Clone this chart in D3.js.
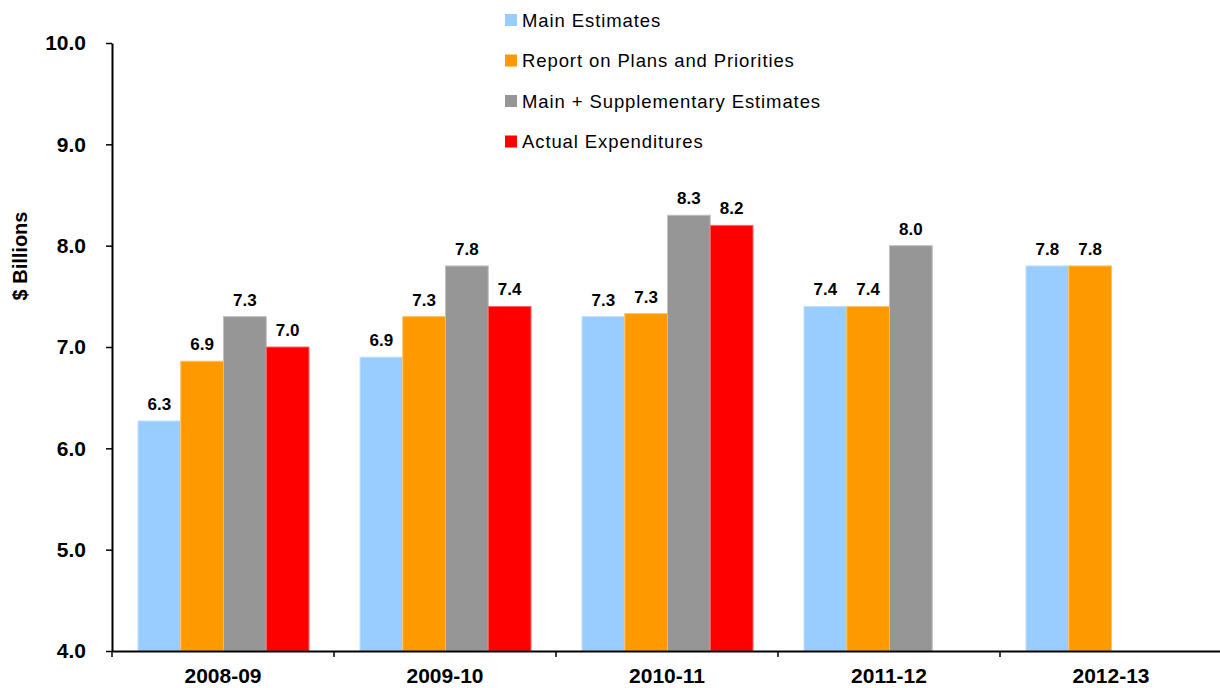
<!DOCTYPE html>
<html>
<head>
<meta charset="utf-8">
<script src="https://cdn.jsdelivr.net/npm/d3@7"></script>
<style>
  body { margin: 0; background: #fff; }
  svg { display: block; font-family: Arial, "Liberation Sans", sans-serif; }
</style>
</head>
<body>
<svg id="chart" width="1220" height="688"></svg>
<script>
const categories = ["2008-09", "2009-10", "2010-11", "2011-12", "2012-13"];
const seriesNames = ["Main Estimates", "Report on Plans and Priorities", "Main + Supplementary Estimates", "Actual Expenditures"];
const mainEstimates = [6.27, 6.9, 7.3, 7.4, 7.8];
const reportPlans = [6.86, 7.3, 7.33, 7.4, 7.8];
const mainSupp = [7.3, 7.8, 8.3, 8.0, null];
const actualExp = [7.0, 7.4, 8.2, null, null];
const yTicks = [4, 5, 6, 7, 8, 9, 10];
const colors = ["#99ccff", "#ff9900", "#969696", "#ff0000"];
const strokes = ["#c4e1ff", "#ffc266", "#c0c0c0", "#ff6666"];

const seriesValues = [mainEstimates, reportPlans, mainSupp, actualExp];

const svg = d3.select("#chart");

const x0 = d3.scaleBand().domain(categories).range([112, 1222]).paddingInner(0).paddingOuter(0);
const x1 = d3.scaleBand().domain(d3.range(4)).range([26, 26 + 171]);
const y = d3.scaleLinear().domain([4, 10]).range([651, 43]);

// bars
categories.forEach((c, ci) => {
  const g = svg.append("g").attr("transform", `translate(${x0(c)},0)`);
  seriesValues.forEach((vals, si) => {
    const v = vals[ci];
    if (v == null) return;
    g.append("rect")
      .attr("x", x1(si))
      .attr("y", y(v))
      .attr("width", x1.bandwidth())
      .attr("height", y(4) - y(v))
      .attr("fill", colors[si])
      .attr("stroke", strokes[si])
      .attr("stroke-width", 1);
    g.append("text")
      .attr("x", x1(si) + x1.bandwidth() / 2)
      .attr("y", y(v) - 11)
      .attr("text-anchor", "middle")
      .attr("font-weight", "bold")
      .attr("font-size", 17)
      .attr("fill", "#000")
      .text(d3.format(".1f")(v));
  });
});

// y axis
const yAxis = d3.axisLeft(y).tickValues(yTicks).tickFormat(d3.format(".1f")).tickSize(6).tickSizeOuter(0);
const yg = svg.append("g").attr("transform", "translate(112,0)").call(yAxis);
yg.select(".domain").attr("stroke", "#000").attr("stroke-width", 2);
yg.selectAll(".tick line").attr("stroke", "#000").attr("stroke-width", 1.5);
yg.selectAll(".tick text")
  .attr("font-size", 21).attr("font-weight", "bold").attr("fill", "#000")
  .attr("font-family", "Arial, 'Liberation Sans', sans-serif")
  .attr("x", -26);

// x axis
const xAxis = d3.axisBottom(x0).tickSize(0).tickSizeOuter(0);
const xg = svg.append("g").attr("transform", `translate(0,${y(4)})`).call(xAxis);
xg.select(".domain").attr("stroke", "#000").attr("stroke-width", 2);
xg.selectAll(".tick text")
  .attr("font-size", 21).attr("font-weight", "bold").attr("fill", "#000")
  .attr("font-family", "Arial, 'Liberation Sans', sans-serif")
  .attr("y", 17);
// category boundary ticks
xg.selectAll(".boundary").data(categories).enter().append("line")
  .attr("x1", d => x0(d)).attr("x2", d => x0(d))
  .attr("y1", 0).attr("y2", 6)
  .attr("stroke", "#000").attr("stroke-width", 1.5);

// y label
svg.append("text")
  .attr("transform", "translate(27,256) rotate(-90)")
  .attr("text-anchor", "middle")
  .attr("font-size", 20).attr("font-weight", "bold")
  .text("$ Billions");

// legend
const lg = svg.append("g").attr("transform", "translate(505,14)");
seriesNames.forEach((n, i) => {
  const row = lg.append("g").attr("transform", `translate(0,${i * 40.5})`);
  row.append("rect").attr("width", 12).attr("height", 12).attr("fill", colors[i]);
  row.append("text").attr("x", 17).attr("y", 12.5).attr("font-size", 18.5)
    .attr("letter-spacing", 0.9).attr("fill", "#000").text(n);
});
</script>
</body>
</html>
